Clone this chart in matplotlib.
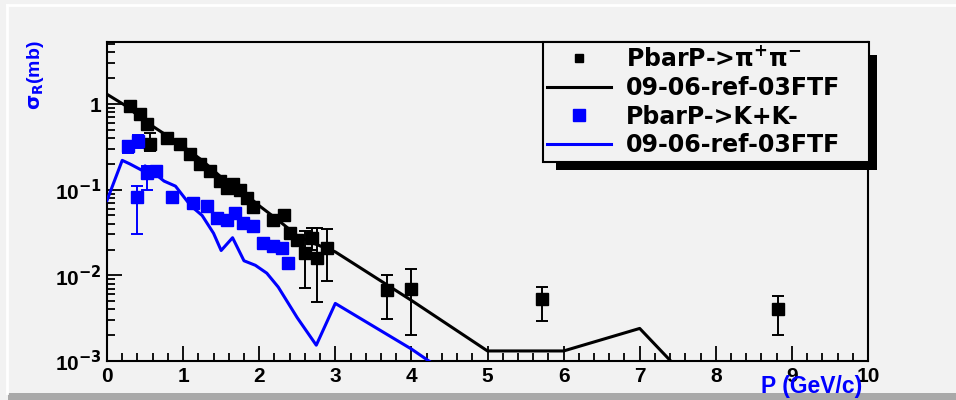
import numpy as np
import matplotlib
matplotlib.use("Agg")
import matplotlib.pyplot as plt
from matplotlib.lines import Line2D
from matplotlib.patches import Rectangle
from matplotlib.ticker import FixedLocator, FuncFormatter, NullFormatter

plt.rcParams['font.family'] = ['Liberation Sans', 'DejaVu Sans']
plt.rcParams['font.weight'] = 'bold'
plt.rcParams['mathtext.default'] = 'bf'

# PbarP -> pi+ pi- data (P in GeV/c, sigma in mb), error bar bounds
pipi_p = [0.30, 0.43, 0.53, 0.56, 0.79, 0.96, 1.09, 1.22, 1.35, 1.49, 1.58, 1.66, 1.75,
          1.84, 1.92, 2.18, 2.32, 2.40, 2.50, 2.60, 2.70, 2.76, 2.89, 3.68, 4.00, 5.72, 8.82]
pipi_s = [0.95, 0.77, 0.59, 0.34, 0.40, 0.34, 0.26, 0.20, 0.166, 0.126, 0.105, 0.117, 0.098,
          0.081, 0.062, 0.044, 0.050, 0.031, 0.026, 0.018, 0.027, 0.0158, 0.021, 0.0067, 0.0069, 0.0053, 0.0041]
pipi_lo = [0.88, 0.71, 0.54, 0.28, 0.37, 0.31, 0.24, 0.185, 0.153, 0.116, 0.097, 0.108, 0.090,
           0.074, 0.056, 0.040, 0.045, 0.028, 0.023, 0.0071, 0.020, 0.0049, 0.0087, 0.0031, 0.0020, 0.0029, 0.0020]
pipi_hi = [1.02, 0.83, 0.64, 0.46, 0.43, 0.37, 0.28, 0.215, 0.179, 0.136, 0.113, 0.126, 0.106,
           0.088, 0.068, 0.048, 0.055, 0.034, 0.029, 0.033, 0.036, 0.036, 0.035, 0.0100, 0.0120, 0.0073, 0.0058]

# PbarP -> K+ K- data
kk_p = [0.27, 0.41, 0.39, 0.52, 0.65, 0.85, 1.13, 1.31, 1.45, 1.58, 1.68, 1.79, 1.92, 2.05, 2.18, 2.30, 2.38]
kk_s = [0.32, 0.37, 0.083, 0.155, 0.167, 0.083, 0.069, 0.065, 0.047, 0.044, 0.054, 0.041, 0.038,
        0.024, 0.022, 0.021, 0.0138]
kk_lo = [0.27, 0.31, 0.030, 0.10, 0.14, 0.075, 0.062, 0.058, 0.042, 0.039, 0.048, 0.036, 0.034,
         0.021, 0.019, 0.018, 0.0118]
kk_hi = [0.37, 0.43, 0.11, 0.19, 0.19, 0.091, 0.076, 0.072, 0.052, 0.049, 0.060, 0.046, 0.042,
         0.027, 0.025, 0.024, 0.0158]

# model curves 09-06-ref-03FTF
pipi_model_p = [0, 0.25, 0.5, 0.75, 1.0, 1.25, 1.5, 1.75, 2.0, 2.25, 2.5, 2.75, 3, 4, 5, 6, 7, 8]
pipi_model_s = [1.3, 0.95, 0.63, 0.45, 0.32, 0.22, 0.14, 0.10, 0.065, 0.044, 0.029, 0.023, 0.0188,
                0.0051, 0.00131, 0.00131, 0.0024, 0.00028]
kk_model_p = [0, 0.2, 0.3, 0.45, 0.5, 0.75, 0.9, 1.1, 1.25, 1.4, 1.5, 1.65, 1.8, 1.95, 2.1, 2.25,
              2.5, 2.75, 3, 4, 5]
kk_model_s = [0.075, 0.22, 0.20, 0.17, 0.19, 0.126, 0.11, 0.065, 0.050, 0.031, 0.0195, 0.0275,
              0.0148, 0.0131, 0.0106, 0.0073, 0.0032, 0.00153, 0.0047, 0.00138, 0.00034]

bg = '#f2f2f2'
W, H = 956, 400
fig = plt.figure(figsize=(9.56, 4.0), dpi=100, facecolor=bg)
ax = fig.add_axes([107 / W, 1 - 361 / H, 761 / W, 319 / H], facecolor=bg)

# canvas border (ROOT style)
fig.add_artist(Line2D([7 / W, 1], [1 - 5 / H] * 2, color='white', lw=2))
fig.add_artist(Line2D([7 / W] * 2, [7 / H, 1 - 5 / H], color='white', lw=2))
fig.add_artist(Rectangle((8 / W, 0), 1, 7 / H, color='#a9a9a9', lw=0))

ax.plot(pipi_model_p, pipi_model_s, color='black', lw=2.2, zorder=3)
ax.plot(kk_model_p, kk_model_s, color='blue', lw=2.2, zorder=3)

s = np.array(pipi_s)
ax.errorbar(pipi_p, s, yerr=[s - np.array(pipi_lo), np.array(pipi_hi) - s], fmt='s',
            color='black', ms=8.5, elinewidth=1.4, capsize=4, capthick=1.4, zorder=4)
k = np.array(kk_s)
ax.errorbar(kk_p, k, yerr=[k - np.array(kk_lo), np.array(kk_hi) - k], fmt='s',
            color='blue', ms=9, elinewidth=1.4, capsize=4, capthick=1.4, zorder=4)

ax.set_yscale('log')
ax.set_xlim(0, 10)
ax.set_ylim(1e-3, 5.3)

ax.xaxis.set_major_locator(FixedLocator(range(0, 11)))
ax.xaxis.set_minor_locator(FixedLocator(np.arange(0, 10.01, 0.2)))
ax.yaxis.set_major_locator(FixedLocator([1e-3, 1e-2, 1e-1, 1]))
ax.yaxis.set_minor_locator(FixedLocator([m * 10.0 ** e for e in range(-3, 1) for m in range(2, 10)]))
ax.yaxis.set_minor_formatter(NullFormatter())


def ylab(v, pos):
    if v >= 1:
        return '1'
    return '10$^{%d}$' % int(round(np.log10(v)))


ax.yaxis.set_major_formatter(FuncFormatter(ylab))
ax.tick_params(which='both', direction='in', top=False, right=False, labelsize=15, width=1.3)
ax.tick_params(which='major', length=11, pad=4)
ax.tick_params(which='minor', length=6)
for sp in ax.spines.values():
    sp.set_linewidth(1.5)

fig.text(862 / W, 1 - 387 / H, 'P (GeV/c)', color='blue', fontsize=16.5, ha='right', va='center')
fig.text(35 / W, 1 - 40 / H, r'$\sigma_{R}$(mb)', color='blue', fontsize=14, rotation=90,
         ha='center', va='top')

# legend
handles = [Line2D([], [], ls='none', marker='s', ms=6, color='black'),
           Line2D([], [], color='black', lw=2.2),
           Line2D([], [], ls='none', marker='s', ms=8, color='blue'),
           Line2D([], [], color='blue', lw=2.2)]
labels = ['PbarP->π$^{+}$π$^{-}$', '09-06-ref-03FTF', 'PbarP->K+K-', '09-06-ref-03FTF']
leg = fig.legend(handles, labels, loc='upper left', mode='expand',
                 bbox_to_anchor=(543 / W, 0, 326 / W, 1 - 42 / H),
                 prop={'family': 'DejaVu Sans', 'weight': 'bold', 'size': 17},
                 fancybox=False, framealpha=1, facecolor=bg, edgecolor='black',
                 handlelength=2.7, handletextpad=0.64, labelspacing=0.2, borderpad=0.18,
                 borderaxespad=0)
leg.get_frame().set_linewidth(1.5)
leg.set_zorder(5)

# ROOT-like legend shadow, placed from the drawn legend box
fig.canvas.draw()
bb = leg.get_window_extent()
fig.add_artist(Rectangle(((bb.x0 + 13) / W, (bb.y0 - 8) / H), (bb.width - 5) / W, (bb.height - 5) / H,
                         color='black', lw=0, zorder=4))

fig.savefig('out.png', dpi=100, facecolor=bg)
